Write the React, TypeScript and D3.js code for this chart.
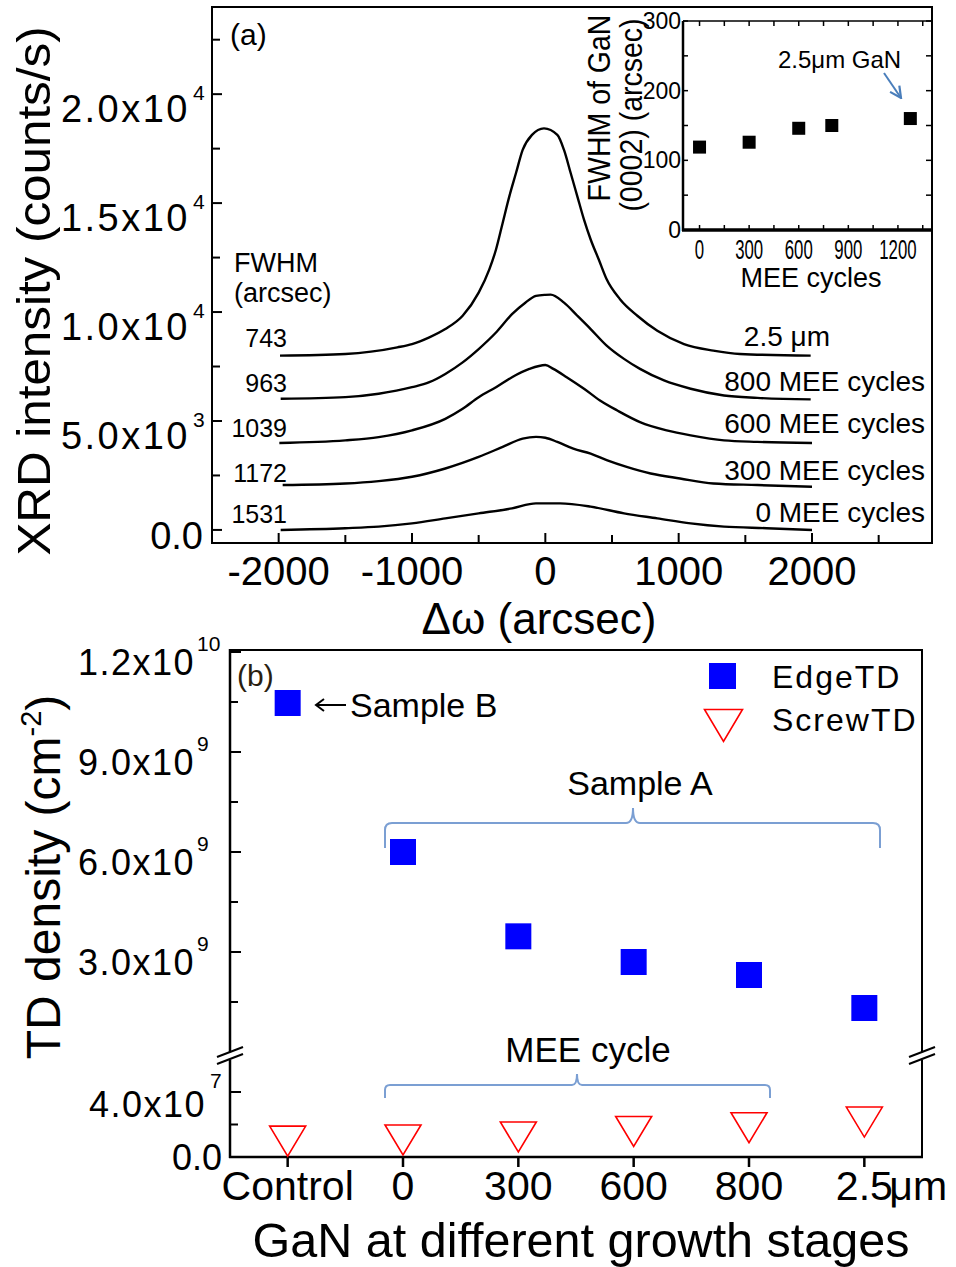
import React from "react";
import * as d3 from "d3";

const FONT = "'Liberation Sans', Arial, Helvetica, sans-serif";

// ---------- Panel (a): XRD rocking curves (arcsec, counts/s) ----------
const curve2p5um: [number, number][] = [
  [-1990, 8000], [-1500, 8075], [-1110, 8380], [-1000, 8530], [-870, 8840], [-750, 9220],
  [-620, 9830], [-500, 10890], [-420, 11960], [-370, 12870], [-320, 14090], [-270, 15310],
  [-220, 16380], [-170, 17440], [-100, 18130], [-10, 18430], [90, 18130], [140, 17440],
  [190, 16380], [240, 15310], [290, 14240], [340, 13330], [400, 12420], [460, 11500],
  [560, 10590], [690, 9830], [840, 9140], [1040, 8530], [1260, 8230], [1460, 8075], [1990, 8000],
];
const curve800: [number, number][] = [
  [-1985, 6020], [-1500, 6095], [-1250, 6250], [-1000, 6550], [-870, 6780], [-750, 7160],
  [-620, 7690], [-500, 8300], [-370, 9060], [-250, 9900], [-150, 10430], [-70, 10740],
  [0, 10790], [40, 10800], [140, 10430], [240, 9830], [340, 9220], [460, 8460], [590, 7850],
  [710, 7390], [890, 6860], [1090, 6480], [1340, 6170], [1590, 6060], [1990, 5990],
];
const curve600: [number, number][] = [
  [-1995, 3990], [-1500, 4110], [-1250, 4260], [-1000, 4570], [-750, 5100], [-620, 5560],
  [-500, 6090], [-370, 6550], [-250, 7010], [-120, 7390], [0, 7570], [60, 7390], [160, 7010],
  [290, 6480], [410, 5940], [540, 5480], [710, 4950], [910, 4570], [1090, 4340], [1340, 4110],
  [1590, 4040], [2000, 3990],
];
const curve300: [number, number][] = [
  [-1970, 2060], [-1500, 2130], [-1250, 2240], [-1000, 2440], [-750, 2820], [-500, 3350],
  [-320, 3810], [-170, 4190], [-70, 4270], [0, 4230], [90, 4040], [210, 3730], [340, 3500],
  [460, 3200], [610, 2890], [790, 2590], [1010, 2360], [1260, 2130], [1590, 2060], [2000, 1980],
];
const curve0: [number, number][] = [
  [-1985, 0], [-1500, 80], [-1250, 150], [-1000, 300], [-750, 530], [-500, 760], [-250, 990],
  [-70, 1220], [0, 1220], [110, 1220], [340, 1070], [590, 760], [840, 530], [1090, 300],
  [1340, 150], [1660, 80], [2000, 0],
];
const curvesA = [curve2p5um, curve800, curve600, curve300, curve0];
const fwhmLabels = ["743", "963", "1039", "1172", "1531"];
const sampleLabels = ["2.5 μm", "800 MEE cycles", "600 MEE cycles", "300 MEE cycles", "0 MEE cycles"];

const aXTicks = [-2000, -1000, 0, 1000, 2000];
const aXTickLabels = ["-2000", "-1000", "0", "1000", "2000"];
const aYTicks = [0, 5000, 10000, 15000, 20000];
const aYTickMant = ["0.0", "5.0x10", "1.0x10", "1.5x10", "2.0x10"];
const aYTickExp = ["", "3", "4", "4", "4"];

// ---------- Inset: FWHM (0002) vs MEE cycles ----------
const insetCycles = [0, 300, 600, 800, 1275];
const insetFwhm = [119, 126, 146, 150, 160];
const insetXTicks = [0, 300, 600, 900, 1200];
const insetYTicks = [0, 100, 200, 300];

// ---------- Panel (b): TD density ----------
const stages = ["Control", "0", "300", "600", "800", "2.5"];
const edgeTD = [1.047e10, 6.0e9, 3.47e9, 2.7e9, 2.31e9, 1.32e9];
const screwTD = [0.98e7, 1.05e7, 1.23e7, 1.57e7, 1.8e7, 2.15e7];
const bUpperTicks = [3e9, 6e9, 9e9, 1.2e10];
const bUpperMant = ["3.0x10", "6.0x10", "9.0x10", "1.2x10"];
const bUpperExp = ["9", "9", "9", "10"];
const bLowerTicks = [0, 4e7];
const bLowerMant = ["0.0", "4.0x10"];
const bLowerExp = ["", "7"];

export default function App() {
  // panel (a)
  const xA = d3.scaleLinear().domain([-2500, 2900]).range([212, 932]);
  const yA = d3.scaleLinear().domain([-600, 24000]).range([543, 7]);
  const lineA = d3
    .line<[number, number]>()
    .x((d) => xA(d[0]))
    .y((d) => yA(d[1]))
    .curve(d3.curveMonotoneX);
  // inset
  const xI = d3.scaleLinear().domain([-100, 1400]).range([683, 931]);
  const yI = d3.scaleLinear().domain([0, 300]).range([230, 21]);
  // panel (b)
  const xB = d3.scaleLinear().domain([-0.5, 5.5]).range([230, 922]);
  const yBU = d3.scaleLinear().domain([0, 1.2e10]).range([1052, 652]);
  const yBL = d3.scaleLinear().domain([0, 4e7]).range([1157, 1092]);

  const aXAll = d3.range(-2000, 2501, 500);
  const aYAll = d3.range(0, 22501, 2500);
  const iXAll = d3.range(0, 1351, 150);
  const iYAll = d3.range(0, 301, 50);
  const bUAll = d3.range(1.5e9, 1.2e10 + 1, 1.5e9);
  const bLAll = [0, 2e7, 4e7];

  const brace = "#7b9fd3";
  const tri = (cx: number, cy: number, w: number, h: number) =>
    `M${cx - w / 2},${cy - h / 2}L${cx + w / 2},${cy - h / 2}L${cx},${cy + h / 2}Z`;

  return (
    <div style={{ position: "absolute", left: 0, top: 0 }}>
      <svg width={956} height={1267} style={{ display: "block", background: "#fff" }} fontFamily={FONT}>
        <defs>
          <marker id="arrBlue" viewBox="0 0 10 10" refX="9" refY="5" markerWidth="7" markerHeight="7" orient="auto">
            <path d="M1,1L9,5L1,9" fill="none" stroke="#4a7ebb" strokeWidth={1.6} />
          </marker>
        </defs>

        {/* ================= Panel (a) ================= */}
        <rect x={212} y={7} width={720} height={536} fill="none" stroke="#000" strokeWidth={2} />
        {aXAll.map((t) => (
          <line key={"ax" + t} x1={xA(t)} x2={xA(t)} y1={543} y2={t % 1000 === 0 ? 533 : 535} stroke="#000" strokeWidth={2} />
        ))}
        {aYAll.map((t) => (
          <line key={"ay" + t} x1={212} x2={t % 5000 === 0 ? 222 : 220} y1={yA(t)} y2={yA(t)} stroke="#000" strokeWidth={2} />
        ))}
        {aXTicks.map((t, i) => (
          <text key={"axl" + t} x={xA(t)} y={585} fontSize={40} textAnchor="middle">
            {aXTickLabels[i]}
          </text>
        ))}
        {aYTicks.map((t, i) =>
          aYTickExp[i] === "" ? (
            <text key={"ayl" + t} x={203} y={yA(t) + 19} fontSize={38} textAnchor="end">
              {aYTickMant[i]}
            </text>
          ) : (
            <g key={"ayl" + t}>
              <text x={190} y={yA(t) + 28} fontSize={38} textAnchor="end" letterSpacing={2.5}>
                {aYTickMant[i]}
              </text>
              <text x={193} y={yA(t) + 6} fontSize={21}>
                {aYTickExp[i]}
              </text>
            </g>
          )
        )}
        <text transform="translate(50,291) rotate(-90) scale(1.05,1)" fontSize={47} textAnchor="middle">
          XRD intensity (counts/s)
        </text>
        <text x={539} y={634} fontSize={44} textAnchor="middle">
          Δω (arcsec)
        </text>

        {curvesA.map((c, i) => (
          <path key={"c" + i} d={lineA(c) || ""} fill="none" stroke="#000" strokeWidth={2.4} strokeLinejoin="round" />
        ))}
        <text x={230} y={45} fontSize={30}>(a)</text>
        <text x={234} y={272} fontSize={27}>FWHM</text>
        <text x={234} y={302} fontSize={27}>(arcsec)</text>
        {fwhmLabels.map((l, i) => (
          <text key={"fl" + i} x={287} y={[347, 392, 437, 482, 523][i]} fontSize={25} textAnchor="end">
            {l}
          </text>
        ))}
        {sampleLabels.map((l, i) => (
          <text key={"sl" + i} x={i === 0 ? 830 : 925} y={[346, 391, 433, 480, 522][i]} fontSize={28} textAnchor="end">
            {l}
          </text>
        ))}

        {/* ---------- Inset ---------- */}
        <rect x={683} y={21} width={248} height={209} fill="#fff" />
        <line x1={683} x2={931} y1={21} y2={21} stroke="#000" strokeWidth={1.5} />
        {iXAll.map((t) => (
          <g key={"ix" + t}>
            <line x1={xI(t)} x2={xI(t)} y1={230} y2={225} stroke="#000" strokeWidth={1.5} />
            <line x1={xI(t)} x2={xI(t)} y1={21} y2={26} stroke="#000" strokeWidth={1.5} />
          </g>
        ))}
        {iYAll.map((t) => (
          <g key={"iy" + t}>
            <line x1={683} x2={688} y1={yI(t)} y2={yI(t)} stroke="#000" strokeWidth={1.5} />
            <line x1={931} x2={926} y1={yI(t)} y2={yI(t)} stroke="#000" strokeWidth={1.5} />
          </g>
        ))}
        <line x1={683} x2={683} y1={21} y2={231} stroke="#000" strokeWidth={2.5} />
        <line x1={682} x2={931} y1={230} y2={230} stroke="#000" strokeWidth={3.5} />
        {insetXTicks.map((t) => (
          <text key={"ixl" + t} transform={`translate(${xI(t)},259) scale(0.6,1)`} fontSize={28} textAnchor="middle">
            {t}
          </text>
        ))}
        {insetYTicks.map((t) => (
          <text key={"iyl" + t} x={681} y={yI(t) + 8} fontSize={23} textAnchor="end">
            {t}
          </text>
        ))}
        <text x={811} y={287} fontSize={27} textAnchor="middle">MEE cycles</text>
        <text transform="translate(610,108) rotate(-90) scale(0.92,1)" fontSize={31} textAnchor="middle">FWHM of GaN</text>
        <text transform="translate(642,115) rotate(-90) scale(0.92,1)" fontSize={31} textAnchor="middle">(0002) (arcsec)</text>
        {insetCycles.map((c, i) => (
          <rect key={"is" + i} x={xI(c) - 6.5} y={yI(insetFwhm[i]) - 6.5} width={13} height={13} fill="#000" />
        ))}
        <text x={778} y={68} fontSize={24}>2.5μm GaN</text>
        <line x1={884} y1={73} x2={901} y2={98} stroke="#4a7ebb" strokeWidth={2} markerEnd="url(#arrBlue)" />

        {/* ================= Panel (b) ================= */}
        <line x1={230} x2={922} y1={650} y2={650} stroke="#000" strokeWidth={2} />
        <line x1={230} x2={230} y1={649} y2={1052} stroke="#000" strokeWidth={2.5} />
        <line x1={230} x2={230} y1={1060} y2={1158} stroke="#000" strokeWidth={2.5} />
        <line x1={922} x2={922} y1={649} y2={1052} stroke="#000" strokeWidth={2} />
        <line x1={922} x2={922} y1={1060} y2={1158} stroke="#000" strokeWidth={2} />
        <line x1={229} x2={923} y1={1157} y2={1157} stroke="#000" strokeWidth={2.5} />
        {[230, 922].map((bx) => (
          <g key={"brk" + bx}>
            <line x1={bx - 13} y1={1057} x2={bx + 13} y2={1047} stroke="#000" strokeWidth={2} />
            <line x1={bx - 13} y1={1064} x2={bx + 13} y2={1054} stroke="#000" strokeWidth={2} />
          </g>
        ))}
        {bUAll.map((t, i) => (
          <line key={"bu" + i} x1={230} x2={(i + 1) % 2 === 0 ? 241 : 238} y1={yBU(t)} y2={yBU(t)} stroke="#000" strokeWidth={2} />
        ))}
        {bLAll.map((t, i) => (
          <line key={"bl" + i} x1={230} x2={i % 2 === 0 ? 241 : 238} y1={yBL(t)} y2={yBL(t)} stroke="#000" strokeWidth={2} />
        ))}
        {stages.map((s, i) => (
          <line key={"bt" + i} x1={xB(i)} x2={xB(i)} y1={1157} y2={1167} stroke="#000" strokeWidth={2.5} />
        ))}
        {bUpperTicks.map((t, i) => (
          <g key={"bul" + i}>
            <text x={195} y={yBU(t) + 23} fontSize={36} textAnchor="end" letterSpacing={1.5}>
              {bUpperMant[i]}
            </text>
            <text x={197} y={yBU(t) - 1} fontSize={21}>
              {bUpperExp[i]}
            </text>
          </g>
        ))}
        {bLowerTicks.map((t, i) =>
          bLowerExp[i] === "" ? (
            <text key={"bll" + i} x={222} y={yBL(t) + 13} fontSize={36} textAnchor="end">
              {bLowerMant[i]}
            </text>
          ) : (
            <g key={"bll" + i}>
              <text x={206} y={yBL(t) + 25} fontSize={36} textAnchor="end" letterSpacing={1.5}>
                {bLowerMant[i]}
              </text>
              <text x={210} y={yBL(t) - 4} fontSize={21}>
                {bLowerExp[i]}
              </text>
            </g>
          )
        )}
        {stages.map((s, i) => (
          <text key={"bxl" + i} x={xB(i)} y={1200} fontSize={41} textAnchor="middle">
            {s}
          </text>
        ))}
        <text x={xB(5) + 25} y={1200} fontSize={41}>μm</text>
        <text x={581} y={1257} fontSize={48.5} textAnchor="middle">
          GaN at different growth stages
        </text>
        <text transform="translate(60,877) rotate(-90)" fontSize={48} textAnchor="middle">
          TD density (cm
          <tspan fontSize={29} dy={-19}>-2</tspan>
          <tspan dy={19}>)</tspan>
        </text>

        <text x={237} y={686} fontSize={30} fill="#2a1e10">(b)</text>

        {edgeTD.map((v, i) => (
          <rect key={"e" + i} x={xB(i) - 13} y={yBU(v) - 13} width={26} height={26} fill="#0000ff" />
        ))}
        {screwTD.map((v, i) => (
          <path key={"s" + i} d={tri(xB(i), yBL(v), 36, 30)} fill="none" stroke="#ff0000" strokeWidth={1.6} />
        ))}

        <rect x={709} y={663} width={27} height={26} fill="#0000ff" />
        <text x={772} y={688} fontSize={32} letterSpacing={2}>EdgeTD</text>
        <path d={tri(723.5, 725.5, 38, 32)} fill="none" stroke="#ff0000" strokeWidth={1.6} />
        <text x={772} y={731} fontSize={32} letterSpacing={2}>ScrewTD</text>

        <line x1={346} y1={705} x2={316} y2={705} stroke="#000" strokeWidth={2} />
        <path d="M324,699L316,705L324,711" fill="none" stroke="#000" strokeWidth={2} />
        <text x={350} y={717} fontSize={34}>Sample B</text>

        <text x={640} y={795} fontSize={34} textAnchor="middle">Sample A</text>
        <path
          d="M385,848L385,830Q385,823 392,823L626,823Q633,823 633,808Q633,823 640,823L873,823Q880,823 880,830L880,848"
          fill="none"
          stroke={brace}
          strokeWidth={2}
        />
        <text x={588} y={1062} fontSize={35} textAnchor="middle">MEE cycle</text>
        <path
          d="M385,1098L385,1090Q385,1085 390,1085L572,1085Q577,1085 577,1074Q577,1085 582,1085L765,1085Q770,1085 770,1090L770,1098"
          fill="none"
          stroke={brace}
          strokeWidth={2}
        />
      </svg>
    </div>
  );
}
